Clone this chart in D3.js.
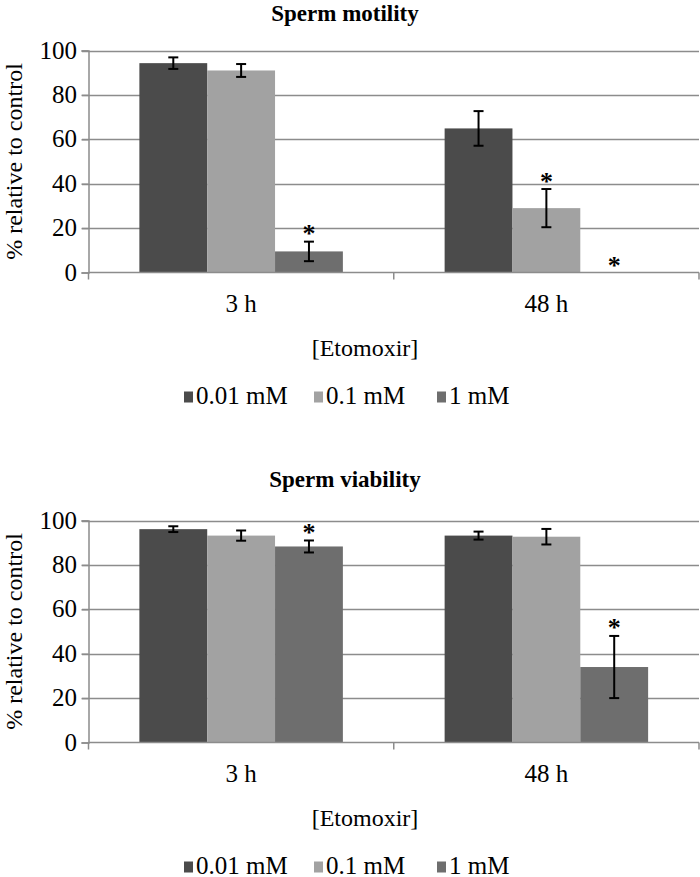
<!DOCTYPE html>
<html>
<head>
<meta charset="utf-8">
<script src="https://cdn.jsdelivr.net/npm/d3@7"></script>
</head>
<body style="margin:0">
<svg id="chart" width="700" height="877"></svg>
<script>
// ---- Data ----
const categories = ["3 h", "48 h"];
const series = ["0.01 mM", "0.1 mM", "1 mM"];
const seriesColors = ["#4b4b4b", "#a2a2a2", "#6e6e6e"];
const yTicks = [0, 20, 40, 60, 80, 100];

// Sperm motility: values[series][category]
const motilityValues = [[94.3, 64.9], [91.0, 29.0], [9.5, 0]];
const motilityErrors = [[2.6, 7.8], [2.9, 8.6], [4.4, 0]];
const motilityStars  = [[false, false], [false, true], [true, true]];

// Sperm viability
const viabilityValues = [[96.1, 93.2], [93.2, 92.7], [88.3, 34.0]];
const viabilityErrors = [[1.3, 1.8], [2.3, 3.5], [2.7, 14.0]];
const viabilityStars  = [[false, false], [false, false], [true, true]];

const FONT = '"Liberation Serif"';
const svg = d3.select("#chart");

function txt(g, x, y, s, opts = {}) {
  const t = g.append("text")
    .attr("x", x).attr("y", y)
    .attr("font-size", opts.size || 24)
    .style("font-family", FONT)
    .attr("fill", "#000")
    .attr("text-anchor", opts.anchor || "middle")
    .text(s);
  if (opts.bold) t.attr("font-weight", "bold");
  return t;
}

function drawChart(cfg) {
  const g = svg.append("g");
  const x0 = d3.scaleBand().domain(categories).range([88.5, 699]).paddingInner(0).paddingOuter(0);
  const x1 = d3.scaleBand().domain(series).range([0, x0.bandwidth()]).paddingInner(0).paddingOuter(0.75);
  const y = d3.scaleLinear().domain([0, 100]).range([cfg.y0, cfg.y100]);

  // title
  txt(g, 345, cfg.titleY, cfg.title, { bold: true, size: 23 });

  // grid lines
  g.append("g").selectAll("line").data(yTicks.filter(d => d > 0)).join("line")
    .attr("x1", 82).attr("x2", 699)
    .attr("y1", d => Math.round(y(d)) + 0.5).attr("y2", d => Math.round(y(d)) + 0.5)
    .attr("stroke", "#8c8c8c").attr("stroke-width", 1.5);

  // y axis (left) with ticks
  const yAxis = d3.axisLeft(y).tickValues(yTicks).tickSize(7).tickFormat("");
  const ya = g.append("g").attr("transform", "translate(88.5,0)").call(yAxis);
  ya.select(".domain").attr("stroke", "#8c8c8c").attr("stroke-width", 1.5);
  ya.selectAll(".tick line").attr("stroke", "#8c8c8c").attr("stroke-width", 1.5);

  // tick labels
  yTicks.forEach(v => txt(g, 77, y(v) + 8, String(v), { anchor: "end", size: 25 }));

  // bars
  series.forEach((s, si) => {
    g.append("g").selectAll("rect").data(categories).join("rect")
      .attr("x", c => x0(c) + x1(s))
      .attr("width", x1.bandwidth())
      .attr("y", (c, ci) => y(cfg.values[si][ci]))
      .attr("height", (c, ci) => y(0) - y(cfg.values[si][ci]))
      .attr("fill", seriesColors[si]);
  });

  // x axis line and ticks
  const xa = g.append("g");
  xa.append("line").attr("x1", 88.5).attr("x2", 699).attr("y1", y(0)).attr("y2", y(0))
    .attr("stroke", "#8c8c8c").attr("stroke-width", 1.5);
  const bounds = [x0(categories[0]), x0(categories[1]), x0(categories[1]) + x0.bandwidth()];
  xa.selectAll("line.t").data(bounds).join("line").attr("class", "t")
    .attr("x1", d => d).attr("x2", d => d)
    .attr("y1", y(0)).attr("y2", y(0) + 7)
    .attr("stroke", "#8c8c8c").attr("stroke-width", 1.5);

  // error bars & stars
  series.forEach((s, si) => {
    categories.forEach((c, ci) => {
      const cx = x0(c) + x1(s) + x1.bandwidth() / 2;
      const v = cfg.values[si][ci], e = cfg.errors[si][ci];
      if (e > 0) {
        const top = y(v + e), bot = y(v - e);
        g.append("line").attr("x1", cx).attr("x2", cx).attr("y1", top).attr("y2", bot)
          .attr("stroke", "#000").attr("stroke-width", 2);
        [top, bot].forEach(yy => g.append("line")
          .attr("x1", cx - 5).attr("x2", cx + 5).attr("y1", yy).attr("y2", yy)
          .attr("stroke", "#000").attr("stroke-width", 2));
      }
      if (cfg.stars[si][ci]) {
        const topY = e > 0 ? y(v + e) : y(v) + 1;
        txt(g, cx, topY + 0.5, "*", { bold: true, size: 26 });
      }
    });
  });

  // category labels
  categories.forEach(c => txt(g, x0(c) + x0.bandwidth() / 2, cfg.y0 + 39, c, { size: 25 }));

  // y axis title
  g.append("text")
    .attr("transform", `translate(22,${(cfg.y0 + cfg.y100) / 2}) rotate(-90)`)
    .attr("font-size", 24)
    .style("font-family", FONT)
    .attr("text-anchor", "middle").attr("fill", "#000")
    .text("% relative to control");

  // x axis title
  txt(g, 365, cfg.y0 + 83, "[Etomoxir]");

  // legend
  const legX = [184, 314, 437];
  series.forEach((s, si) => {
    g.append("rect").attr("x", legX[si]).attr("y", cfg.y0 + 131 - 12)
      .attr("width", 9).attr("height", 11).attr("fill", seriesColors[si]);
    txt(g, legX[si] + 12, cfg.y0 + 131, s, { anchor: "start", size: 25 });
  });
}

drawChart({ title: "Sperm motility", titleY: 21, y0: 272.5, y100: 50.5,
  values: motilityValues, errors: motilityErrors, stars: motilityStars });
drawChart({ title: "Sperm viability", titleY: 487, y0: 742.5, y100: 520.5,
  values: viabilityValues, errors: viabilityErrors, stars: viabilityStars });
</script>
</body>
</html>
